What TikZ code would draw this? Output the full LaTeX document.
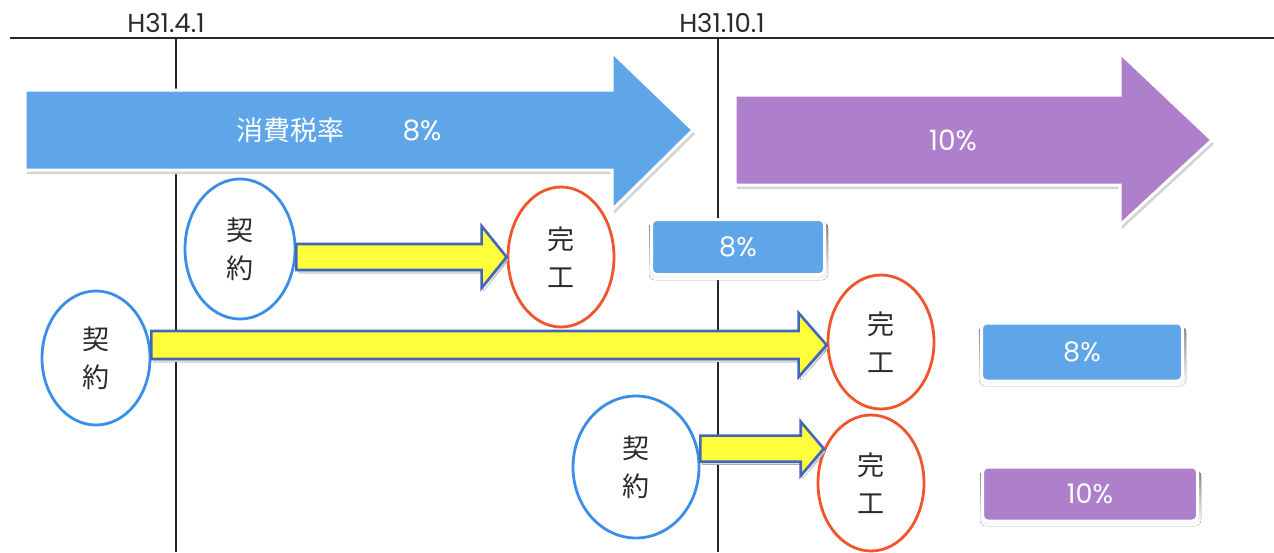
\documentclass[tikz,border=0pt]{standalone}
\usepackage{fontspec}
\setmainfont{Poppins}
\newfontfamily\jp{Noto Sans CJK JP}
\usetikzlibrary{shapes.geometric,calc}
\definecolor{arrblue}{HTML}{5FA6E8}
\definecolor{arrpurple}{HTML}{AE80CC}
\definecolor{ellblue}{HTML}{3A8EE6}
\definecolor{ellred}{HTML}{F0552B}
\definecolor{yel}{HTML}{FFFF3C}
\definecolor{navy}{HTML}{4466B8}
\definecolor{txt}{HTML}{2B2B2B}
\definecolor{shade}{HTML}{D4D4D4}
\newcommand\yelarrow[5]{%
  \fill[shade] ($(#1 |- #2)+(2,-#3+3)$) -- ($(#2)+(-#5+2,-#3+3)$) -- ($(#2)+(-#5+2,-#4+3)$) -- ($(#2)+(2,3)$) -- ($(#2)+(-#5+2,#4+3)$) -- ($(#2)+(-#5+2,#3+3)$) -- ($(#1 |- #2)+(2,#3+3)$) -- cycle;
  \draw[yarrow] ($(#1 |- #2)+(0,-#3)$) -- ($(#2)+(-#5,-#3)$) -- ($(#2)+(-#5,-#4)$) -- (#2) -- ($(#2)+(-#5,#4)$) -- ($(#2)+(-#5,#3)$) -- ($(#1 |- #2)+(0,#3)$) -- cycle;}
\begin{document}
\begin{tikzpicture}[x=1pt,y=-1pt,
  timeline/.style={draw=black!85, line width=1.4pt},
  datelabel/.style={font=\fontsize{26}{28}\selectfont, text=txt, anchor=base, inner sep=0pt},
  bigarrow/.style={draw=white, line width=3pt, line join=miter},
  arrshadow/.style={fill=shade},
  wtext/.style={text=white, inner sep=0pt},
  pct/.style={font=\fontsize{28}{30}\selectfont},
  jptxt/.style={font=\jp\fontsize{27}{38}\selectfont},
  ratebox/.style={rounded corners=5pt, draw=white, line width=3pt, text=white, font=\fontsize{27}{30}\selectfont, inner sep=0pt},
  kei/.style={ellipse, draw=ellblue, line width=2.8pt, fill=white, inner sep=0pt, font=\jp\fontsize{27}{38}\selectfont, text=txt, align=center},
  kan/.style={ellipse, draw=ellred, line width=2.8pt, fill=white, inner sep=0pt, font=\jp\fontsize{27}{38}\selectfont, text=txt, align=center},
  yarrow/.style={fill=yel, draw=navy, line width=2.6pt, line join=miter}
]
\useasboundingbox (0,0) rectangle (1274,552);
% timeline
\coordinate (tl) at (10,38);
\coordinate (tr) at (1274,38);
\coordinate (v1t) at (176,38);
\coordinate (v1b) at (176,552);
\coordinate (v2t) at (718,38);
\coordinate (v2b) at (718,552);
\draw[timeline] (tl) -- (tr);
\draw[timeline] (v1t) -- (v1b);
\draw[timeline] (v2t) -- (v2b);
\node[datelabel] (d1) at (166,32) {H31.4.1};
\node[datelabel] (d2) at (722,32) {H31.10.1};
% big blue arrow
\fill[arrshadow] (27,94) -- (614,94) -- (614,56) -- (695,134) -- (614,214) -- (614,174) -- (27,174) -- cycle;
\fill[arrblue] (25,90) -- (612,90) -- (612,52) -- (693,130) -- (612,210) -- (612,170) -- (25,170) -- cycle;
\draw[bigarrow] (25,90) -- (612,90) -- (612,52) -- (693,130) -- (612,210) -- (612,170) -- (25,170) -- cycle;
\node[wtext, jptxt] (t1) at (290,130) {消費税率};
\node[wtext, pct] (t2) at (422,130) {8\%};
% big purple arrow
\fill[arrshadow] (737,99) -- (1122,99) -- (1122,57) -- (1214,144) -- (1122,229) -- (1122,189) -- (737,189) -- cycle;
\fill[arrpurple] (735,95) -- (1120,95) -- (1120,53) -- (1212,140) -- (1120,225) -- (1120,185) -- (735,185) -- cycle;
\draw[bigarrow] (735,95) -- (1120,95) -- (1120,53) -- (1212,140) -- (1120,225) -- (1120,185) -- (735,185) -- cycle;
\node[wtext, pct] (t3) at (953,140) {10\%};
% rate boxes
\fill[shade, rounded corners=6pt] (649,222) rectangle (828,280);
\node[ratebox, fill=arrblue, minimum width=173pt, minimum height=55pt] (b1) at (738,247) {8\%};
\fill[shade, rounded corners=6pt] (979,326) rectangle (1186,386);
\node[ratebox, fill=arrblue, minimum width=201pt, minimum height=58pt] (b2) at (1082,352) {8\%};
\fill[shade, rounded corners=6pt] (980,470) rectangle (1201,526);
\node[ratebox, fill=arrpurple, minimum width=215pt, minimum height=54pt] (b3) at (1090,494) {10\%};
% ellipses
\node[kei, minimum width=110pt, minimum height=140pt] (e1) at (240,249) {契\\約};
\node[kei, minimum width=108pt, minimum height=134pt] (e2) at (96,358) {契\\約};
\node[kei, minimum width=126pt, minimum height=142pt] (e3) at (636,467) {契\\約};
\node[kan, minimum width=106pt, minimum height=140pt] (c1) at (561,257) {完\\工};
\node[kan, minimum width=106pt, minimum height=134pt] (c2) at (881,342) {完\\工};
\node[kan, minimum width=106pt, minimum height=136pt] (c3) at (871,483) {完\\工};
% yellow arrows
\coordinate (p1) at (c1.west);
\coordinate (p2) at ($(c2.west)+(0,3)$);
\coordinate (p3) at (c3.144);
\yelarrow{e1.east}{p1}{13}{31}{25}
\yelarrow{e2.east}{p2}{14}{32}{28}
\yelarrow{e3.east}{p3}{13}{27}{23}
\end{tikzpicture}
\end{document}
